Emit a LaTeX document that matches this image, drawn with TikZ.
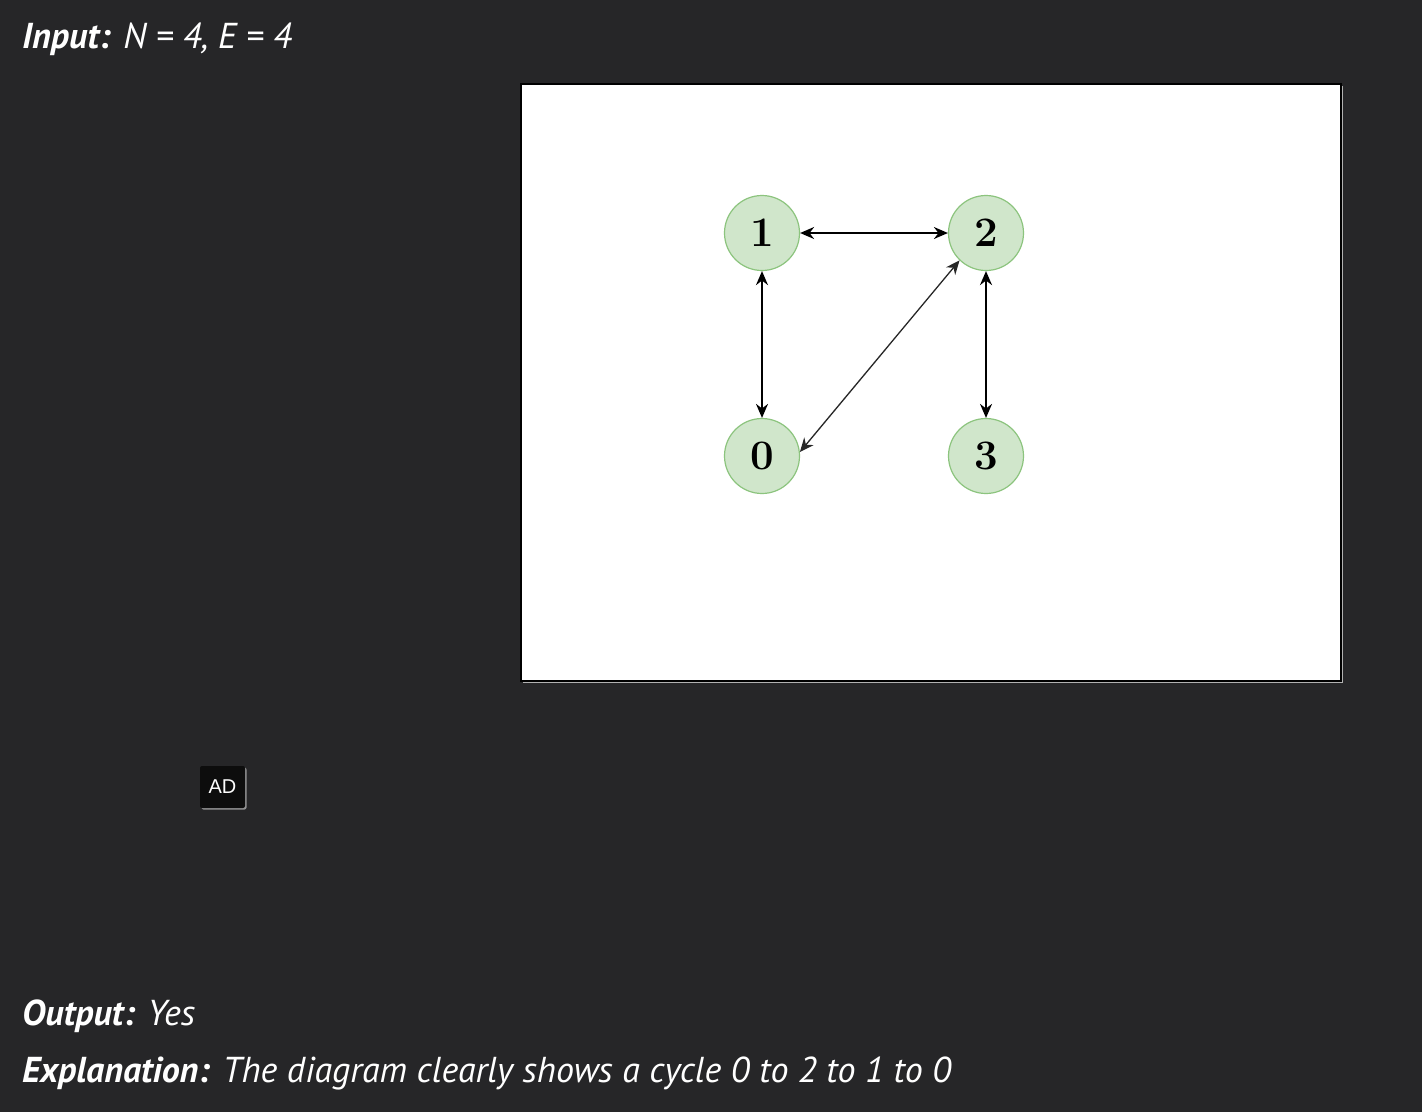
\documentclass[tikz,border=0pt]{standalone}
\usepackage{fontspec}
\setmainfont{PT Sans}
\usetikzlibrary{arrows.meta,shadows}
\definecolor{bg}{HTML}{262628}
\definecolor{nodefill}{HTML}{D0E6CB}
\definecolor{nodeline}{HTML}{8CC47E}
\tikzset{
  vert/.style={circle, fill=nodefill, draw=nodeline, line width=1.2pt, minimum size=75pt, inner sep=0pt,
    font=\fontspec{Latin Modern Roman}\bfseries\fontsize{42}{42}\selectfont},
  edge/.style={line width=1.8pt, {Stealth[length=14pt,width=12pt]}-{Stealth[length=14pt,width=12pt]}},
  diag/.style={line width=1.3pt, draw=black!85, {Stealth[length=14pt,width=12pt]}-{Stealth[length=14pt,width=12pt]}},
  txt/.style={anchor=base west, inner sep=0pt, text=white, font=\fontsize{36}{36}\selectfont\itshape},
}
\begin{document}
\begin{tikzpicture}[x=1pt,y=-1pt]
\useasboundingbox (0,0) rectangle (1422,1112);
\fill[bg] (0,0) rectangle (1422,1112);
% white panel
\fill[gray!60] (523,86) rectangle (1343,683);
\fill[white] (521,84) rectangle (1341,681);
\draw[black, line width=2pt] (521,84) rectangle (1341,681);
% nodes
\node[vert] (n1) at (762,233) {1};
\node[vert] (n2) at (986,233) {2};
\node[vert] (n0) at (762,456) {0};
\node[vert] (n3) at (986,456) {3};
\draw[edge] (n1) -- (n2);
\draw[edge] (n1) -- (n0);
\draw[edge] (n2) -- (n3);
\draw[diag] (n0.6) -- (n2.226);
% texts
\node[txt] (t1) at (22,48) {\textbf{Input:} N = 4, E = 4};
\node[txt] (t2) at (22,1025) {\textbf{Output:} Yes};
\node[txt] (t3) at (22,1082) {\textbf{Explanation:} The diagram clearly shows a cycle 0 to 2 to 1 to 0};
% AD badge
\node[fill=black!95, rounded corners=2pt, minimum width=45pt, minimum height=42pt, inner sep=0pt,
  text=white, font=\fontspec{Liberation Sans}\fontsize{20}{20}\selectfont,
  drop shadow={shadow xshift=1.5pt, shadow yshift=-1.5pt, fill=white, opacity=0.5}] (ad) at (222.5,787) {AD};
\end{tikzpicture}
\end{document}
